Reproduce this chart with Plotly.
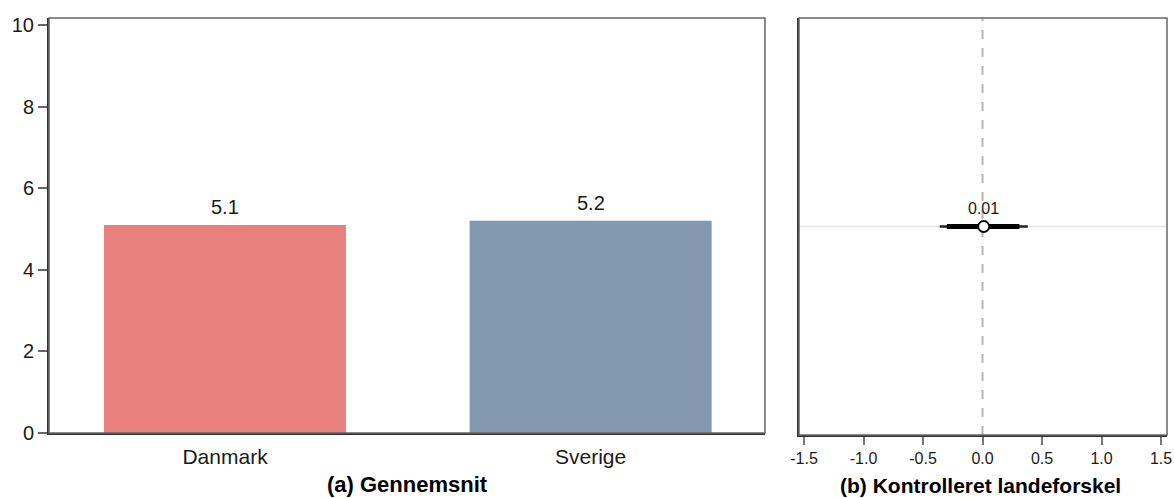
import plotly.graph_objects as go

# Panel (a): average per country
countries = ["Danmark", "Sverige"]
means = [5.1, 5.2]
bar_colors = ["#E8807E", "#8299B0"]

# Panel (b): adjusted country difference with confidence intervals
diff_estimate = 0.01
ci_inner = [-0.30, 0.31]
ci_outer = [-0.36, 0.38]
diff_ticks = [-1.5, -1.0, -0.5, 0.0, 0.5, 1.0, 1.5]

FONT = "Liberation Sans, Arial, sans-serif"
W, H = 1174, 498


def px_x(p):
    return p / W


def px_y(p):
    return (H - p) / H


fig = go.Figure()

fig.add_trace(go.Bar(
    x=countries, y=means, marker=dict(color=bar_colors, line=dict(width=0)),
    width=0.662, xaxis="x", yaxis="y", showlegend=False, hoverinfo="skip",
))
for c, m in zip(countries, means):
    fig.add_annotation(x=c, y=m, xref="x", yref="y", text=f"{m:.1f}",
                       showarrow=False, yshift=18,
                       font=dict(family=FONT, size=20, color="#1a1a1a"))

# Confidence interval bars and point estimate
fig.add_trace(go.Scatter(
    x=ci_outer, y=[0, 0], mode="lines", line=dict(color="#222", width=2.5),
    xaxis="x2", yaxis="y2", showlegend=False, hoverinfo="skip",
))
fig.add_trace(go.Scatter(
    x=ci_inner, y=[0, 0], mode="lines", line=dict(color="#000", width=5),
    xaxis="x2", yaxis="y2", showlegend=False, hoverinfo="skip",
))
fig.add_trace(go.Scatter(
    x=[diff_estimate], y=[0], mode="markers",
    marker=dict(size=11, color="white", line=dict(color="black", width=1.8)),
    xaxis="x2", yaxis="y2", showlegend=False, hoverinfo="skip",
))
fig.add_annotation(x=diff_estimate, y=0, xref="x2", yref="y2",
                   text=f"{diff_estimate:.2f}", showarrow=False, yshift=18,
                   font=dict(family=FONT, size=16, color="#1a1a1a"))

# Reference lines in panel (b)
fig.add_shape(type="line", xref="x2 domain", yref="y2", x0=0, x1=1, y0=0, y1=0,
              line=dict(color="#e6e6e6", width=1.5), layer="below")
fig.add_shape(type="line", xref="x2", yref="y2 domain", x0=0, x1=0, y0=0, y1=1,
              line=dict(color="#b5b5b5", width=2, dash="dash"), layer="below")

# Panel frames
for xd, yd in (("x domain", "y domain"), ("x2 domain", "y2 domain")):
    fig.add_shape(type="rect", xref=xd, yref=yd, x0=0, x1=1, y0=0, y1=1,
                  line=dict(color="#666", width=1.5), layer="above")

# Panel titles
fig.add_annotation(x=px_x(407), y=px_y(484), xref="paper", yref="paper",
                   xanchor="center", yanchor="middle",
                   text="<b>(a) Gennemsnit</b>", showarrow=False,
                   font=dict(family=FONT, size=22, color="#000"))
fig.add_annotation(x=px_x(980), y=px_y(485), xref="paper", yref="paper",
                   xanchor="center", yanchor="middle",
                   text="<b>(b) Kontrolleret landeforskel</b>", showarrow=False,
                   font=dict(family=FONT, size=21, color="#000"))

fig.update_layout(
    template="none",
    width=W, height=H,
    margin=dict(l=0, r=0, t=0, b=0, autoexpand=False),
    paper_bgcolor="white", plot_bgcolor="white",
    font=dict(family=FONT, color="#1a1a1a"),
    xaxis=dict(
        domain=[px_x(49), px_x(765)], range=[-0.4815, 1.477],
        showline=True, linecolor="#333", linewidth=2,
        ticks="", showgrid=False, zeroline=False, fixedrange=True,
        tickfont=dict(size=21, family=FONT, color="#1a1a1a"), ticklabelstandoff=4,
        anchor="y", automargin=False,
    ),
    yaxis=dict(
        domain=[px_y(433), px_y(18)], range=[0, 10.17],
        tickvals=[0, 2, 4, 6, 8, 10],
        showline=True, linecolor="#333", linewidth=2,
        ticks="outside", ticklen=9, tickwidth=2, tickcolor="#666",
        showgrid=False, zeroline=False,
        tickfont=dict(size=20, family=FONT, color="#1a1a1a"),
        anchor="x", automargin=False,
    ),
    xaxis2=dict(
        domain=[px_x(799), px_x(1167)], range=[-1.542, 1.55],
        tickvals=diff_ticks, ticktext=[f"{v:.1f}" for v in diff_ticks],
        showline=True, linecolor="#333", linewidth=2,
        ticks="outside", ticklen=8, tickwidth=2, tickcolor="#777",
        showgrid=False, zeroline=False,
        tickfont=dict(size=16, family=FONT, color="#1a1a1a"),
        anchor="y2", automargin=False,
    ),
    yaxis2=dict(
        domain=[px_y(435), px_y(18)], range=[-1, 1],
        showline=True, linecolor="#333", linewidth=2,
        showticklabels=False, ticks="", showgrid=False, zeroline=False,
        anchor="x2", automargin=False,
    ),
)

fig.write_html("out.html")
